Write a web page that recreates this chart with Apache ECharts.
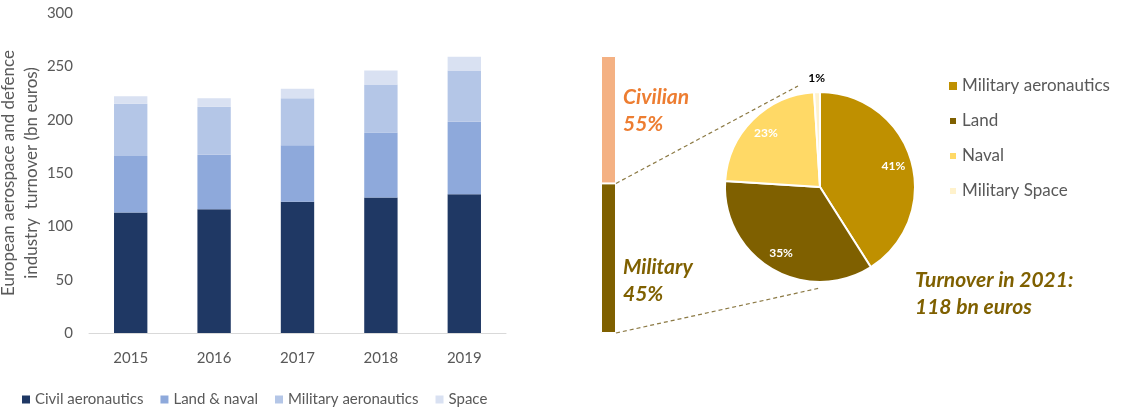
<!DOCTYPE html>
<html><head><meta charset="utf-8">
<script src="https://cdn.jsdelivr.net/npm/echarts@6/dist/echarts.min.js"></script>
<style>html,body{margin:0;padding:0;background:#fff}#c{width:1140px;height:410px}</style>
</head><body><div id="c"></div>
<script>
// ---- data ----
const years = ['2015','2016','2017','2018','2019'];
const civilAero = [113,116,123,127,130];
const landNaval = [53,51,53,61,68];
const militaryAero = [49,45,44,45,48];
const space = [7,8,9,13,13];
const barSeriesNames = ['Civil aeronautics','Land & naval','Military aeronautics','Space'];
const splitNames = ['Military','Civilian'];
const splitLabels = ['45%','55%'];
const splitHeights = [54,46];           // segment heights as drawn
const pieNames = ['Military aeronautics','Land','Naval','Military Space'];
const pieValues = [41,35,23,1];
const turnoverText = ['Turnover in 2021:','118 bn euros'];

// ---- style ----
const FONT = 'Lato, Carlito, Calibri, sans-serif';
const GREY = '#595959';
const barColors = ['#1F3864','#8EA9DB','#B4C6E7','#D9E1F2'];
const splitColors = ['#7F6000','#F4B183'];
const pieColors = ['#BF9000','#7F6000','#FFD966','#FFF2CC'];
const PIE_C = [820,187], PIE_R = 95;

const chart = echarts.init(document.getElementById('c'));
const barData = [civilAero, landNaval, militaryAero, space];

const option = {
  animation:false,
  textStyle:{fontFamily:FONT},
  grid:[
    {left:89, top:13, width:417, bottom:77, outerBoundsMode:'none', containLabel:false},
    {left:601, top:56, width:15, bottom:77, outerBoundsMode:'none', containLabel:false}
  ],
  xAxis:[
    {gridIndex:0,type:'category',data:years,axisLine:{lineStyle:{color:'#D9D9D9',width:1}},axisTick:{show:false},
     axisLabel:{color:GREY,fontSize:15,margin:18,fontFamily:FONT}},
    {gridIndex:1,type:'category',data:['share'],show:false}
  ],
  yAxis:[
    {gridIndex:0,type:'value',min:0,max:300,interval:50,axisLine:{show:false},axisTick:{show:false},splitLine:{show:false},
     axisLabel:{color:GREY,fontSize:15,margin:16,fontFamily:FONT},
     name:'European aerospace and defence\nindustry  turnover (bn euros)',nameLocation:'middle',nameGap:37,nameRotate:90,
     nameTextStyle:{color:GREY,fontSize:17,lineHeight:23,fontFamily:FONT}},
    {gridIndex:1,type:'value',min:0,max:100,show:false}
  ],
  legend:[
    {data:barSeriesNames.map((n,i)=>({name:n,itemStyle:{color:barColors[i]}})),left:17,top:387,icon:'rect',itemWidth:8,itemHeight:8,itemGap:17,
     textStyle:{color:GREY,fontSize:15,fontFamily:FONT},selectedMode:false},
    {data:pieNames.map((n,i)=>({name:n,itemStyle:{color:pieColors[i]}})),orient:'vertical',left:943,top:71,icon:'rect',itemWidth:8,itemHeight:8,itemGap:15,
     textStyle:{color:GREY,fontSize:17,lineHeight:20,fontFamily:FONT},selectedMode:false}
  ],
  series:[]
};

barSeriesNames.forEach((n,i)=>{
  option.series.push({type:'bar',name:n,stack:'t',xAxisIndex:0,yAxisIndex:0,barWidth:'40%',
    data:barData[i],itemStyle:{color:barColors[i]}});
});
splitNames.forEach((n,i)=>{
  option.series.push({type:'bar',name:n,stack:'s',xAxisIndex:1,yAxisIndex:1,barWidth:'100%',
    data:[splitHeights[i]],itemStyle:{color:splitColors[i],borderColor:'#fff',borderWidth:1}});
});
// main pie
option.series.push({type:'pie',center:PIE_C,radius:PIE_R,startAngle:90,clockwise:true,
  itemStyle:{borderColor:'#fff',borderWidth:2},label:{show:false},labelLine:{show:false},
  data:pieNames.map((n,i)=>({name:n,value:pieValues[i],itemStyle:{color:pieColors[i]}}))});
// label overlay pie (transparent ring to push labels outward)
option.series.push({type:'pie',center:PIE_C,radius:[52,PIE_R],startAngle:90,clockwise:true,silent:true,
  itemStyle:{color:'rgba(0,0,0,0)'},
  label:{show:true,position:'inside',formatter:'{c}%',color:'#fff',fontWeight:'bold',fontSize:12,fontFamily:FONT},
  labelLine:{show:false},
  data:pieNames.map((n,i)=>({name:n,value:pieValues[i],label:{show:pieValues[i]>=5}}))});

chart.setOption(option);

// small-slice label placed just outside the pie along its mid angle
const total = pieValues.reduce((a,b)=>a+b,0);
const graphics = [];
let cum = 0;
pieValues.forEach((v,i)=>{
  const mid = (90 - (cum + v/2)/total*360) * Math.PI/180;
  cum += v;
  if(v<5){
    const rr = PIE_R + 14;
    graphics.push({type:'text',x:PIE_C[0]+rr*Math.cos(mid),y:PIE_C[1]-rr*Math.sin(mid),
      style:{text:v+'%',fill:'#000',font:'bold 12px Lato',align:'center',verticalAlign:'middle',textAlign:'center',textVerticalAlign:'middle'}});
  }
});

// connectors and annotations
const boundary = chart.convertToPixel({xAxisIndex:1,yAxisIndex:1},[0,splitHeights[0]]);
const basePt = chart.convertToPixel({xAxisIndex:1,yAxisIndex:1},[0,0]);
const rightX = boundary[0] + 7.5;
const dash = {stroke:'#8C7A45',lineWidth:1.2,lineDash:[4,3]};
const txt = (t,x,y,color)=>({type:'text',x:x,y:y,style:{text:t,fill:color,font:'italic bold 21px Lato',verticalAlign:'middle',textVerticalAlign:'middle'}});
graphics.push(
  {type:'line',shape:{x1:rightX,y1:boundary[1],x2:PIE_C[0]-22,y2:PIE_C[1]-PIE_R-6},style:dash},
  {type:'line',shape:{x1:rightX,y1:basePt[1],x2:PIE_C[0],y2:PIE_C[1]+PIE_R+6},style:dash},
  txt(splitNames[1],623,97,'#ED7D31'),
  txt(splitLabels[1],623,124,'#ED7D31'),
  txt(splitNames[0],623,267,'#7F6000'),
  txt(splitLabels[0],623,294,'#7F6000'),
  txt(turnoverText[0],915,280,'#7F6000'),
  txt(turnoverText[1],915,307,'#7F6000')
);
chart.setOption({graphic:graphics});
</script></body></html>
